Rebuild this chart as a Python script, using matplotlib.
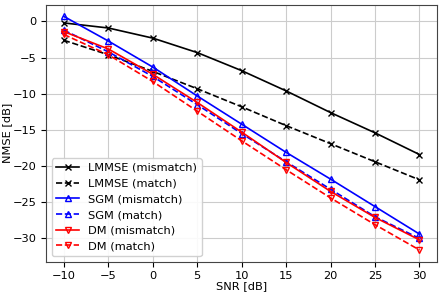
import matplotlib
matplotlib.use("Agg")
import matplotlib.pyplot as plt

snr = [-10, -5, 0, 5, 10, 15, 20, 25, 30]
lmmse_mismatch = [-0.2, -0.9, -2.3, -4.3, -6.8, -9.6, -12.6, -15.4, -18.4]
lmmse_match = [-2.6, -4.6, -6.9, -9.3, -11.8, -14.4, -16.9, -19.4, -21.9]
sgm_mismatch = [0.7, -2.7, -6.3, -10.3, -14.2, -18.1, -21.8, -25.6, -29.4]
sgm_match = [-1.2, -4.2, -7.6, -11.5, -15.5, -19.4, -23.2, -27.0, -30.0]
dm_mismatch = [-1.4, -3.8, -7.3, -11.2, -15.3, -19.5, -23.5, -27.1, -30.2]
dm_match = [-1.8, -4.6, -8.3, -12.4, -16.5, -20.5, -24.4, -28.1, -31.6]

plt.rcParams['font.family'] = ['DejaVu Sans']
plt.rcParams['font.size'] = 8.2

fig = plt.figure(figsize=(4.43, 2.96), dpi=100)
ax = fig.add_axes([0.104, 0.116, 0.883, 0.868])

lw = 1.2
ms = 4.5
ax.plot(snr, lmmse_mismatch, '-', color='black', marker='x', lw=lw, ms=ms, label='LMMSE (mismatch)')
ax.plot(snr, lmmse_match, '--', color='black', marker='x', lw=lw, ms=ms, label='LMMSE (match)')
ax.plot(snr, sgm_mismatch, '-', color='blue', marker='^', mfc='none', lw=lw, ms=ms, label='SGM (mismatch)')
ax.plot(snr, sgm_match, '--', color='blue', marker='^', mfc='none', lw=lw, ms=ms, label='SGM (match)')
ax.plot(snr, dm_mismatch, '-', color='red', marker='v', mfc='none', lw=lw, ms=ms, label='DM (mismatch)')
ax.plot(snr, dm_match, '--', color='red', marker='v', mfc='none', lw=lw, ms=ms, label='DM (match)')

ax.set_xticks([-10, -5, 0, 5, 10, 15, 20, 25, 30])
ax.set_yticks([0, -5, -10, -15, -20, -25, -30])
ax.grid(True, color='#cccccc', lw=0.8)
ax.set_axisbelow(True)
for s in ax.spines.values():
    s.set_color('#444444')
ax.set_xlabel('SNR [dB]', labelpad=0)
ax.set_ylabel('NMSE [dB]', labelpad=0)
ax.legend(loc='lower left', framealpha=0.9, edgecolor='#cccccc')

fig.savefig('out.png', dpi=100)
